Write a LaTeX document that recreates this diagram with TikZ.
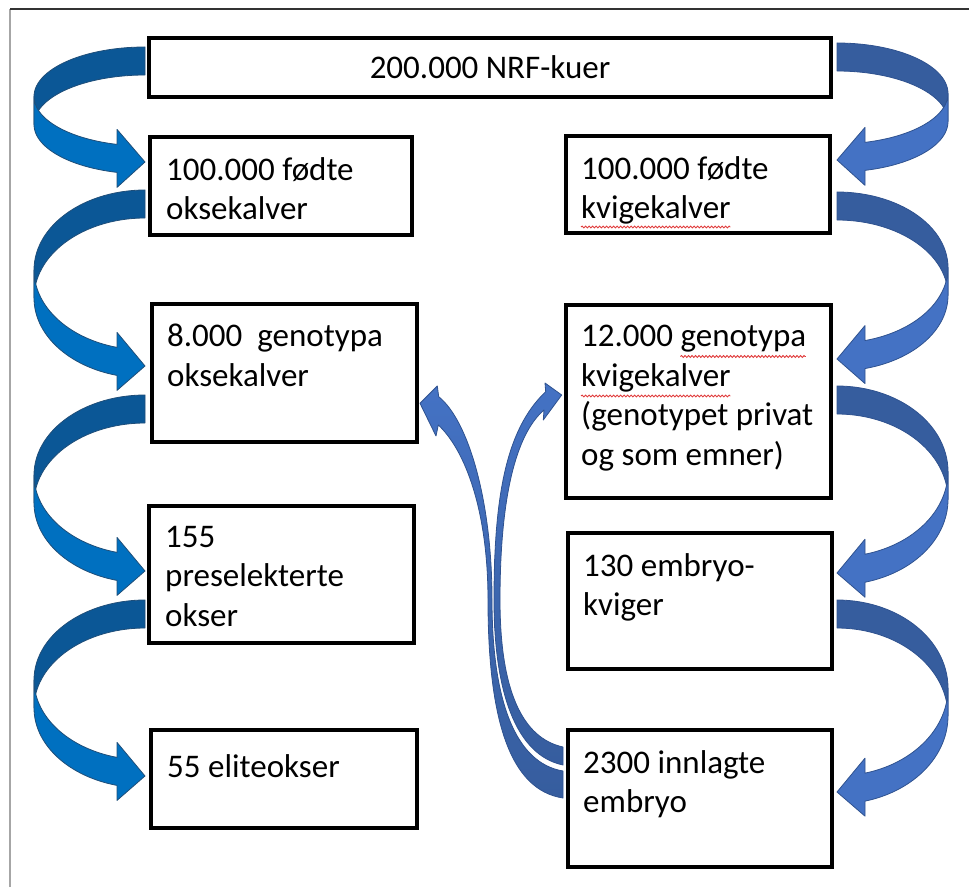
\documentclass[tikz,border=0pt]{standalone}
\usepackage{fontspec}
\setmainfont{Carlito}
\usetikzlibrary{calc,decorations.pathmorphing}

\definecolor{leftlight}{HTML}{0070C0}
\definecolor{leftdark}{HTML}{0B5796}
\definecolor{leftline}{HTML}{1F4E79}
\definecolor{rightlight}{HTML}{4472C4}
\definecolor{rightdark}{HTML}{365D9E}
\definecolor{rightline}{HTML}{2F528F}
\definecolor{spellred}{HTML}{E03C3C}

\newcommand\boxfont{\fontsize{33}{39.5}\selectfont}
\newlength\kvw
\newlength\gnw
\newlength\gxo

\tikzset{
  stage/.style={draw=black, line width=4.5pt, inner sep=0pt, outer sep=0pt, anchor=north west},
  stagetext/.style={font=\boxfont, align=left, inner sep=0pt, anchor=north west, execute at begin node=\strut},
  framerule/.style={draw=gray!70, line width=1.2pt},
  spellwave/.style={draw=spellred, line width=0.9pt, decorate, decoration={snake, amplitude=0.9pt, segment length=3.5pt}},
  bandline/.style={line width=0.8pt, line join=round},
}

% twisted ribbon arrow: #1 tail top, #2 tip, #3 side (-1 left, 1 right), #4 dark, #5 light, #6 outline
\newcommand\ribbon[6]{%
  \path (#1); \pgfgetlastxy{\rbx}{\rby}
  \path (#2); \pgfgetlastxy{\rhx}{\rhy}
  \pgfmathsetmacro\rbR{\rbx}
  \pgfmathsetmacro\rbc{(\rby+\rhy+16)/2}
  \pgfmathsetmacro\rbb{(\rby-\rhy-16)/2}
  \pgfmathsetmacro\rbt{180-asin(28/111)}
  \filldraw[bandline, fill=#4, draw=#6]
    plot[domain=0:90, samples=30] ({\rbR+#3*111*sin(\x)}, {\rbc+\rbb*cos(\x)})
    -- plot[domain=90:0, samples=30] ({\rbR+#3*111*sin(\x)}, {\rbc-28+\rbb*cos(\x)}) -- cycle;
  \filldraw[bandline, fill=#5, draw=#6]
    plot[domain=90:\rbt, samples=30] ({\rbR+#3*111*sin(\x)}, {\rbc-28+\rbb*cos(\x)})
    -- ({\rbR+#3*28}, {\rbc-43+\rbb*cos(\rbt)}) -- (#2)
    -- ({\rbR+#3*28}, {\rbc+15+\rbb*cos(\rbt)})
    -- plot[domain=\rbt:90, samples=30] ({\rbR+#3*111*sin(\x)}, {\rbc+\rbb*cos(\x)}) -- cycle;
}

\begin{document}
\settowidth\kvw{\boxfont kvigekalver}%
\settowidth\gnw{\boxfont genotypa}%
\settowidth\gxo{\boxfont 12.000\ }%
\begin{tikzpicture}[x=1pt, y=1pt]
\useasboundingbox (0,0) rectangle (969,887);

\draw[framerule] (10,0) -- (10,878);
\draw[framerule, draw=black!80] (10,878) -- (969,878);

% boxes
\node[stage, font=\boxfont, minimum width=682, minimum height=59] (cows) at (149,849) {200.000 NRF-kuer};
\node[stage, minimum width=262, minimum height=98] (l1) at (150,750) {};
\node[stage, minimum width=264, minimum height=97] (r1) at (566,751) {};
\node[stage, minimum width=265, minimum height=138] (l2) at (152,583) {};
\node[stage, minimum width=265, minimum height=193] (r2) at (566,582) {};
\node[stage, minimum width=265, minimum height=137] (l3) at (149,381) {};
\node[stage, minimum width=264, minimum height=136] (r3) at (568,354) {};
\node[stage, minimum width=266, minimum height=98] (l4) at (151,157) {};
\node[stage, minimum width=264, minimum height=137] (r4) at (568,157) {};

% texts
\node[stagetext] (l1t) at ($(l1.north west)+(16,-20)$) {100.000 fødte\\oksekalver};
\node[stagetext] (r1t) at ($(r1.north west)+(15,-20)$) {100.000 fødte\\kvigekalver};
\node[stagetext] (l2t) at ($(l2.north west)+(15,-20)$) {8.000\ \ genotypa\\oksekalver};
\node[stagetext] (r2t) at ($(r2.north west)+(15,-20)$) {12.000 genotypa\\kvigekalver\\(genotypet privat\\og som emner)};
\node[stagetext] (l3t) at ($(l3.north west)+(16,-20)$) {155\\preselekterte\\okser};
\node[stagetext] (r3t) at ($(r3.north west)+(15,-20)$) {130 embryo-\\kviger};
\node[stagetext] (l4t) at ($(l4.north west)+(16,-20)$) {55 eliteokser};
\node[stagetext] (r4t) at ($(r4.north west)+(15,-20)$) {2300 innlagte\\embryo};

% spelling marks
\draw[spellwave] ($(r1t.north west)+(0pt,-71pt)$) -- ++(\kvw,0pt);
\draw[spellwave] ($(r2t.north west)+(\gxo,-31.5pt)$) -- ++(\gnw,0pt);
\draw[spellwave] ($(r2t.north west)+(0pt,-71pt)$) -- ++(\kvw,0pt);

% ribbon arrows, bull side
\coordinate (la) at ($(cows.north west)+(-4,-9)$);
\coordinate (lat) at ($(l1.north west)+(-5,-25)$);
\coordinate (lb) at ($(l1.north west)+(-5,-53)$);
\coordinate (lbt) at ($(l2.north west)+(-7,-62)$);
\coordinate (lc) at ($(l2.north west)+(-7,-91)$);
\coordinate (lct) at ($(l3.north west)+(-4,-65)$);
\coordinate (ld) at ($(l3.north west)+(-4,-94)$);
\coordinate (ldt) at ($(l4.north west)+(-6,-46)$);
\ribbon{la}{lat}{-1}{leftdark}{leftlight}{leftline}
\ribbon{lb}{lbt}{-1}{leftdark}{leftlight}{leftline}
\ribbon{lc}{lct}{-1}{leftdark}{leftlight}{leftline}
\ribbon{ld}{ldt}{-1}{leftdark}{leftlight}{leftline}

% ribbon arrows, heifer side
\coordinate (ra) at ($(cows.north east)+(6,-5)$);
\coordinate (rat) at ($(r1.north east)+(7,-24)$);
\coordinate (rb) at ($(r1.north east)+(7,-56)$);
\coordinate (rbt) at ($(r2.north east)+(6,-54)$);
\coordinate (rc) at ($(r2.north east)+(6,-81)$);
\coordinate (rct) at ($(r3.north east)+(5,-40)$);
\coordinate (rd) at ($(r3.north east)+(5,-67)$);
\coordinate (rdt) at ($(r4.north east)+(5,-62)$);
\ribbon{ra}{rat}{1}{rightdark}{rightlight}{rightline}
\ribbon{rb}{rbt}{1}{rightdark}{rightlight}{rightline}
\ribbon{rc}{rct}{1}{rightdark}{rightlight}{rightline}
\ribbon{rd}{rdt}{1}{rightdark}{rightlight}{rightline}

% embryos back up to the genotyped calves
\coordinate (lup) at ($(l2.north east)+(3,-99.3)$);
\coordinate (rup) at ($(r2.north west)+(-4.3,-90)$);
\coordinate (emba) at ($(r4.north west)+(-5,-17)$);
\coordinate (embb) at ($(r4.north west)+(-5,-35)$);
\coordinate (embc) at ($(r4.north west)+(-5,-41)$);
\coordinate (embd) at ($(r4.north west)+(-5,-68)$);
\shadedraw[bandline, draw=rightline, top color=rightlight, middle color=rightlight, bottom color=rightdark]
  (438.3,462) -- (436,451) -- (lup) -- (437.3,501) -- (438.7,490.3)
  .. controls (468,467) and (492,387) .. (492,287)
  .. controls (492,187) and (515,124) .. (embc) -- (embd)
  .. controls (510,97) and (488,167) .. (488,287)
  .. controls (488,377) and (465,437) .. cycle;
\shadedraw[bandline, draw=rightline, top color=rightlight, middle color=rightlight, bottom color=rightdark]
  (545.7,495.3) -- (545,504) -- (rup) -- (543.3,467) -- (544,477)
  .. controls (515,452) and (500,387) .. (500,287)
  .. controls (500,197) and (522,149) .. (emba) -- (embb)
  .. controls (515,132) and (494,197) .. (494,287)
  .. controls (494,387) and (505,457) .. cycle;
\end{tikzpicture}
\end{document}
